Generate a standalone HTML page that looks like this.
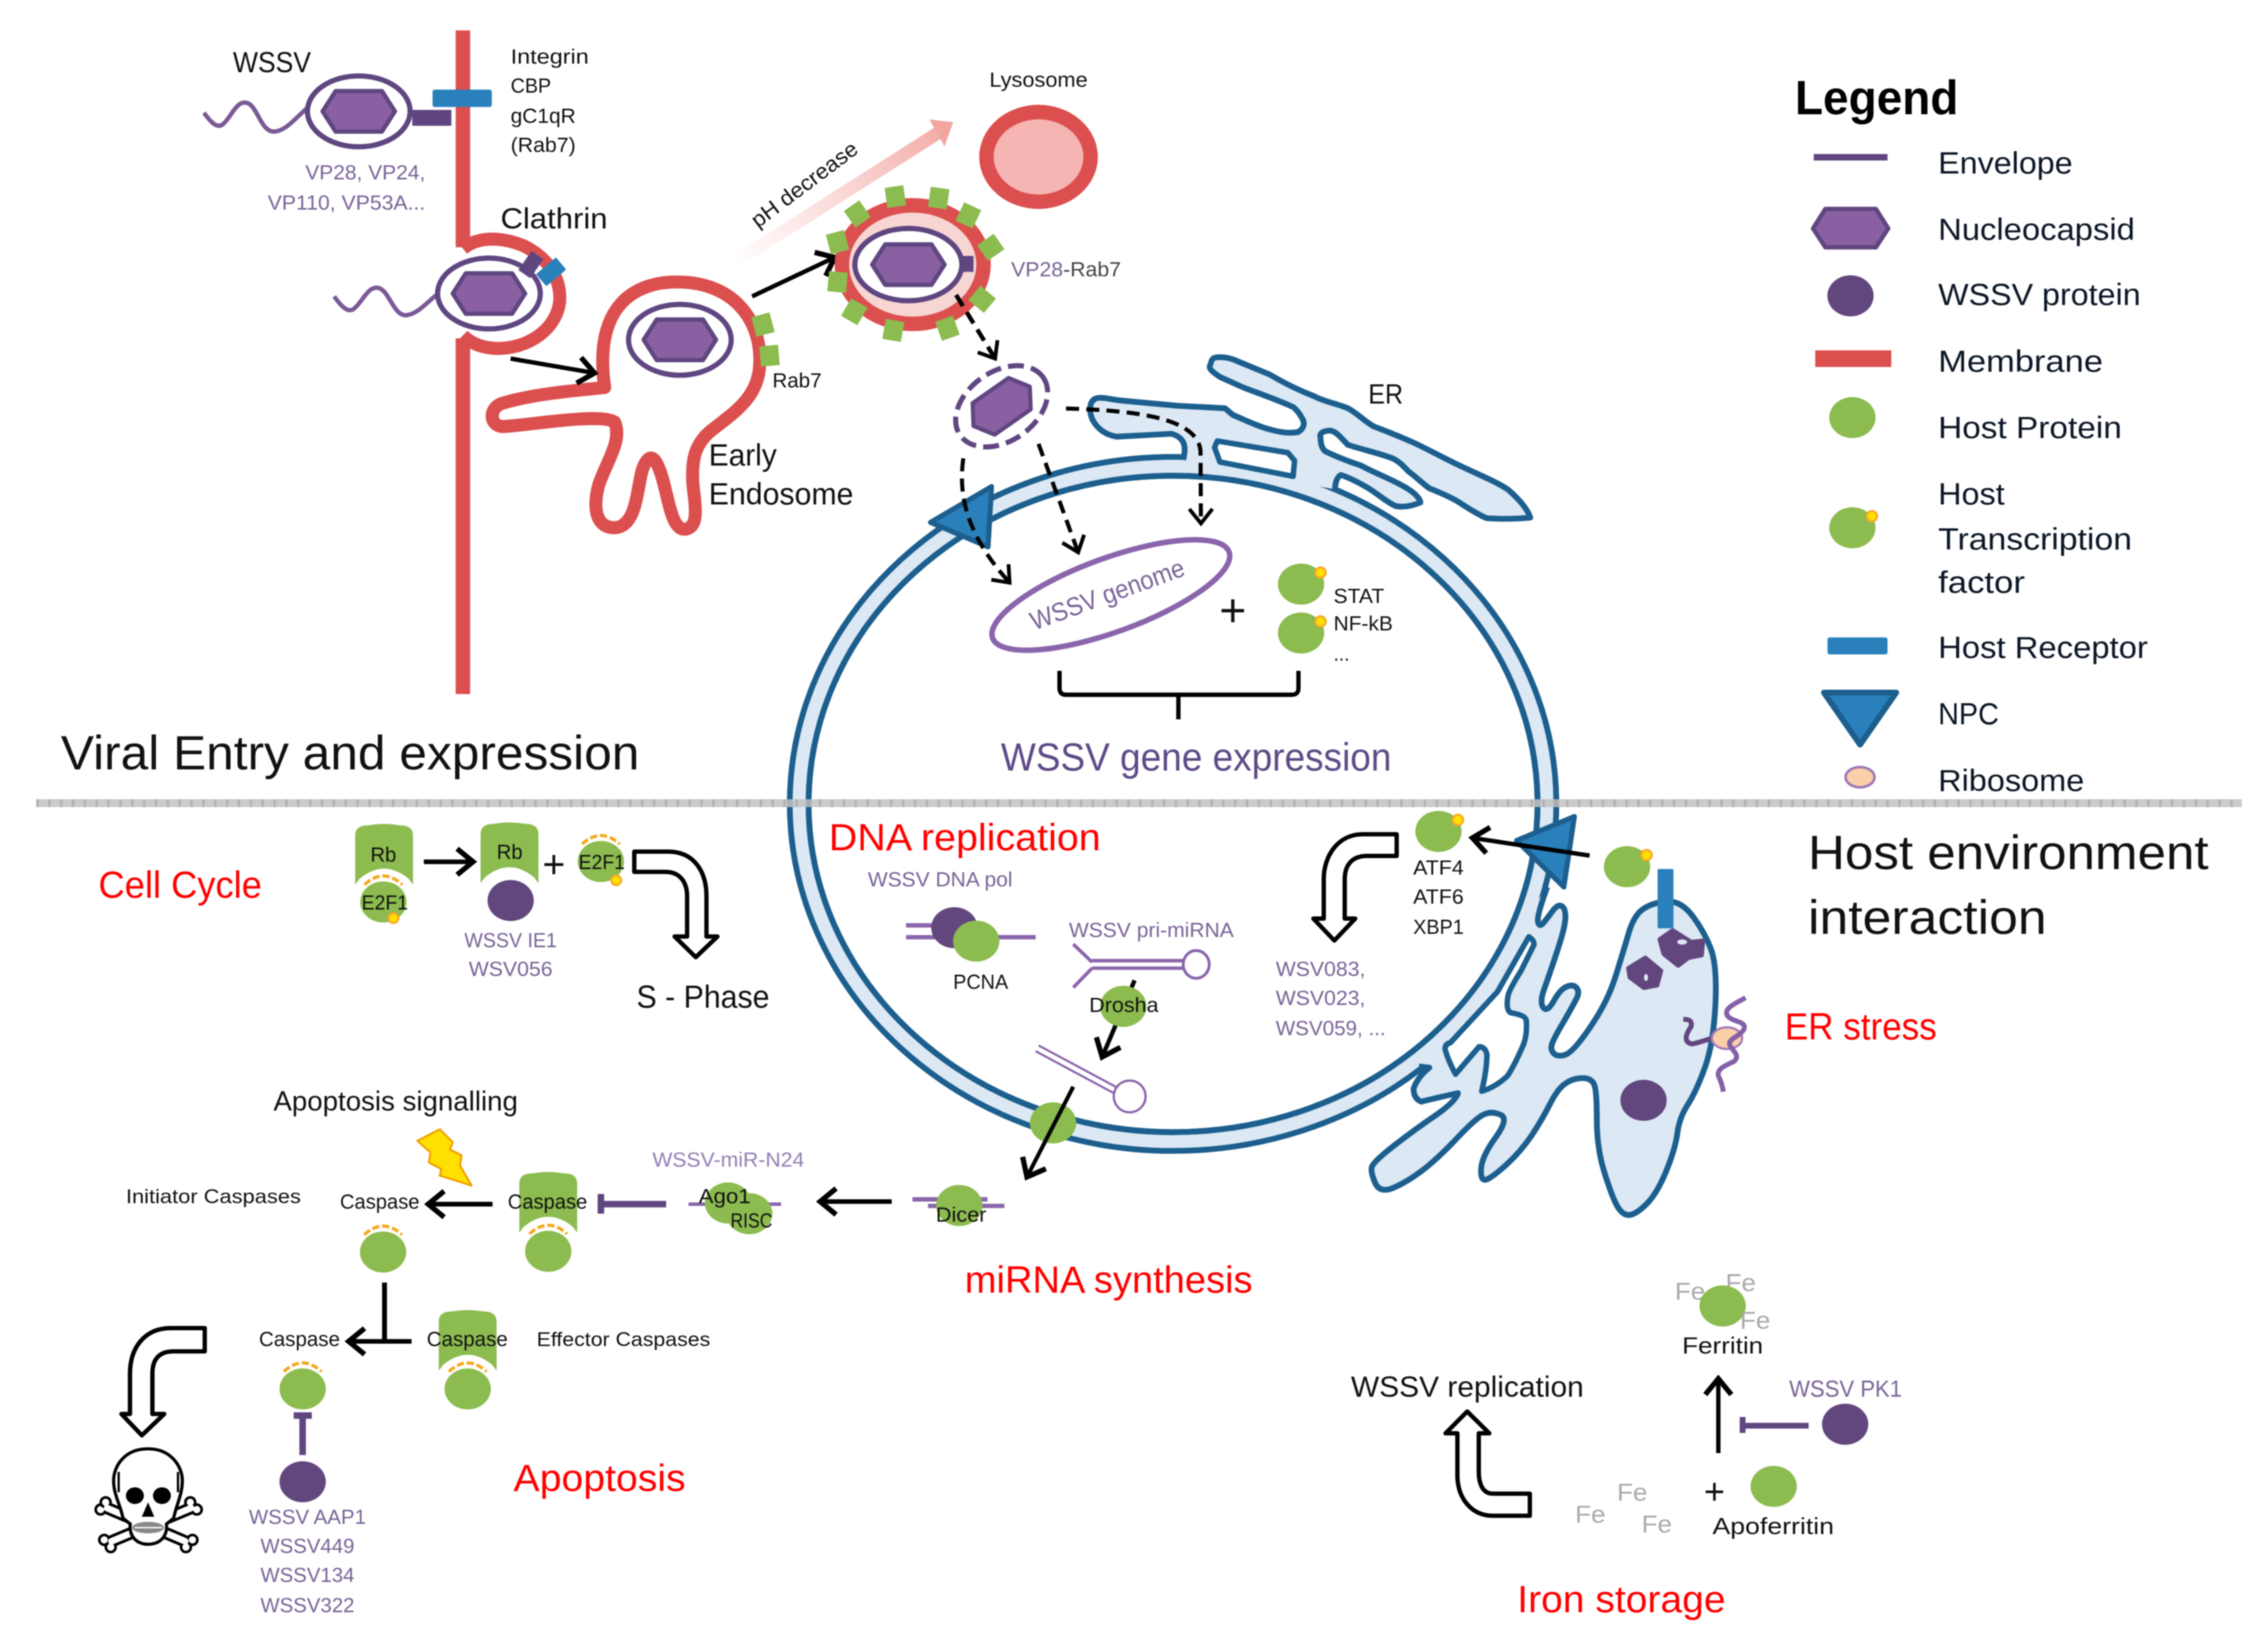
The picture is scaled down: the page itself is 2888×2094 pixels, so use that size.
<!DOCTYPE html>
<html><head><meta charset="utf-8"><title>WSSV host interaction</title>
<style>
html,body{margin:0;padding:0;background:#fff}
svg{display:block;filter:blur(.7px)}
text{font-family:"Liberation Sans",sans-serif;fill:#111}
.p{fill:#7a6498}.lp{fill:#9580b5}.r{fill:#f00}.f{fill:#aaa;font-size:17px}
.s{font-size:14px}.m{font-size:20px}.l{font-size:21px;fill:#0c1626}.rr{font-size:26px;fill:#f00}
</style></head><body>
<svg xmlns="http://www.w3.org/2000/svg" width="2888" height="2094" viewBox="0 0 1568 1137">
<defs>
<marker id="ah" markerUnits="userSpaceOnUse" markerWidth="24" markerHeight="24" refX="16" refY="12" orient="auto"><path d="M5,3 L16,12 L5,21" fill="none" stroke="#000" stroke-width="3.6"/></marker>
<marker id="ad" markerUnits="userSpaceOnUse" markerWidth="24" markerHeight="24" refX="16" refY="12" orient="auto"><path d="M6,4 L16,12 L6,20" fill="none" stroke="#000" stroke-width="2.6"/></marker>
<linearGradient id="ph" x1="507" y1="182" x2="659" y2="83" gradientUnits="userSpaceOnUse"><stop offset="0" stop-color="#f6b8b4" stop-opacity="0"/><stop offset="1" stop-color="#f2a6a2"/></linearGradient>
<g id="hex"><path d="M-25,0 L-16,-14 H16 L25,0 L16,14 H-16 Z" fill="#8a60a3" stroke="#5f4680" stroke-width="3" stroke-linejoin="round"/></g>
<g id="vir"><ellipse rx="35.5" ry="24.5" fill="#fff" stroke="#5f4680" stroke-width="3.6"/><use href="#hex"/></g>
<g id="tf"><ellipse rx="16" ry="14.2" fill="#8cbb4f"/><circle cx="13.5" cy="-8" r="3.6" fill="#ffe000" stroke="#f9a825" stroke-width="1.4"/></g>
<ellipse id="gp" rx="16" ry="14.2" fill="#8cbb4f"/>
<ellipse id="pp" rx="16" ry="14.2" fill="#62467e"/>
<path id="dsh" d="M-13,-12 Q0,-24 13,-12" fill="none" stroke="#f5a81c" stroke-width="2.2" stroke-dasharray="5,2"/>
<path id="rb" d="M-20,-46 Q-20,-53 -11,-53 Q0,-55 11,-53 Q20,-53 20,-46 V-12 L17,-16 Q0,-30 -17,-16 L-20,-12 Z" fill="#8cbb4f"/>
<rect id="sq" x="-6.5" y="-7" width="13" height="14" fill="#8cbb4f"/>
</defs>

<!-- plasma membrane -->
<rect x="315" y="21" width="10" height="150" fill="#dc4f4f"/>
<rect x="315" y="234" width="10" height="246" fill="#dc4f4f"/>
<path d="M320,172 C332,162 350,165 362,170 C382,180 387,195 387,206 C387,222 372,240 345,241 C334,241 326,238 320,232" fill="none" stroke="#dc4f4f" stroke-width="9"/>

<!-- virion 1 -->
<path d="M141,78 C146,85 150,89 154,86 C160,81 163,70 170,71 C178,72 180,92 190,91 C198,90 204,82 212,75" fill="none" stroke="#7a5a96" stroke-width="3"/>
<rect x="285" y="76" width="27" height="11" fill="#5f4680"/>
<use href="#vir" x="248" y="77"/>
<rect x="299" y="62" width="41" height="12" rx="1.5" fill="#2a80bb"/>

<!-- virion 2 -->
<path d="M231,205 C236,212 240,216 244,214 C250,210 254,198 261,199 C269,200 272,219 281,218 C289,217 295,209 303,203" fill="none" stroke="#7a5a96" stroke-width="3"/>
<use href="#vir" x="338" y="203"/>
<rect x="-5" y="-8" width="10" height="16" fill="#5f4680" transform="translate(367,183) rotate(35)"/>
<rect x="-5.5" y="-9" width="11" height="18" rx="1" fill="#2a80bb" transform="translate(381,188) rotate(50)"/>

<!-- early endosome -->
<path d="M418,268 C410,210 440,195 468,195 C510,195 528,225 525,255 C523,275 508,285 494,296 C480,306 478,318 479,335 C481,352 483,364 474,366 C463,367 462,340 456,325 C452,314 448,314 444,325 C440,340 440,364 425,365 C411,365 410,350 414,335 C420,318 430,305 425,292 C415,285 360,295 347,295 C338,294 338,282 347,279 C370,272 400,270 418,268 Z" fill="#fff" stroke="#dc4f4f" stroke-width="9" stroke-linejoin="round"/>
<use href="#vir" x="470" y="235"/>
<use href="#sq" transform="translate(527.5,224.5) rotate(-15)"/>
<use href="#sq" transform="translate(532,246) rotate(-5)"/>
<path d="M353,248 L411,258" fill="none" stroke="#000" stroke-width="3" marker-end="url(#ah)"/>
<path d="M520,205 L577,178" fill="none" stroke="#000" stroke-width="3" marker-end="url(#ah)"/>

<!-- pH arrow -->
<path d="M507,182 L650,91" fill="none" stroke="url(#ph)" stroke-width="9"/>
<path d="M642.5,82.6 L659,84.4 L653,101.3 Z" fill="#f2a6a2"/>
<text transform="translate(524,158) rotate(-37)" font-size="15" textLength="88" lengthAdjust="spacingAndGlyphs">pH decrease</text>

<!-- lysosome -->
<ellipse cx="718" cy="108.5" rx="36" ry="31" fill="#f5b5b3" stroke="#dc4f4f" stroke-width="10"/>

<!-- late endosome -->
<ellipse cx="631" cy="183" rx="49" ry="41" fill="#f7d5d2" stroke="#dc4f4f" stroke-width="10"/>
<rect x="664" y="177" width="9" height="11" fill="#5f4680"/>
<ellipse cx="628" cy="183" rx="37" ry="25" fill="#fff" stroke="#5f4680" stroke-width="3.6"/>
<use href="#hex" x="628" y="183"/>
<use href="#sq" transform="translate(619,136) rotate(-8)"/>
<use href="#sq" transform="translate(649,137) rotate(8)"/>
<use href="#sq" transform="translate(669.5,149) rotate(25)"/>
<use href="#sq" transform="translate(685,171) rotate(55)"/>
<use href="#sq" transform="translate(679,207) rotate(-50)"/>
<use href="#sq" transform="translate(655,227) rotate(-20)"/>
<use href="#sq" transform="translate(617.6,228.5) rotate(10)"/>
<use href="#sq" transform="translate(590.6,215.6) rotate(30)"/>
<use href="#sq" transform="translate(579,195) rotate(5)"/>
<use href="#sq" transform="translate(579,167.5) rotate(-15)"/>
<use href="#sq" transform="translate(592.7,148) rotate(-35)"/>
<path d="M661,204 L688,248" fill="none" stroke="#000" stroke-width="3" stroke-dasharray="9,5" marker-end="url(#ad)"/>

<!-- nuclear envelope -->
<ellipse cx="811" cy="556" rx="265" ry="240" fill="#dce8f4" stroke="#1c5f8e" stroke-width="4"/>
<ellipse cx="811" cy="556" rx="252" ry="227" fill="#fff" stroke="#1c5f8e" stroke-width="4"/>

<!-- ER upper -->
<path d="M818,318 C820,310 820,303 810,300 L772,302 C760,300 752,290 754,280 C756,272 765,276 775,277 L814,280.6 L847,282.4 L852.4,287 C862,291 870,295 878,297 C885,299 892,300 897.7,298.7 C902,296 902,292 900.4,289.6 C898,285 896,283 894,281.5 C882,276 870,272 859.6,268 L843.4,260.7 C838,257 835,255 837,251.6 C838,247 840,247 843.4,247 C848,247 852,248 856,250 L877.8,259 C888,265 898,270 908.5,274 C916,278 924,279 932,282.4 C940,287 944,292 950,295 C958,298 968,302 977,306 C988,311 1000,318 1013.5,324 C1024,329 1034,333 1042.5,338.5 C1050,345 1056,352 1058,358 C1048,359 1038,359 1028,358.4 C1022,356 1016,352 1011.7,349.3 C1004,344 996,341 988,337.6 C982,333 978,329 973.7,326 C970,322 967,319 962.8,317 C952,313 942,311 932,307.7 C928,304 924,298 919.4,297.8 C914,298 912,300 913,303 C913,307 914,310 916,312 C924,316 932,319 941,322 C952,328 964,332 974,338.5 C978,341 982,345 982,347.5 C976,350 970,351 965,350 C958,347 952,341 945,337 C938,333 932,330 927,328.5 C924,330 923,335 923,338.5" fill="#dce8f4" stroke="#1c5f8e" stroke-width="4" stroke-linejoin="round"/>
<path d="M841.6,305 L890.4,313.1 L895,318.6 L894,329.4 L843.4,319.5 L839.7,309.5 Z" fill="#fff" stroke="#1c5f8e" stroke-width="3.8" stroke-linejoin="round"/>

<!-- ER lower -->
<path d="M1069.7,613.5 Q1062.4,633.4 1063.3,637.5 Q1064.2,641.6 1067,638.4 Q1069.7,635.2 1073.3,630.2 Q1076.9,625.3 1079.6,626.6 Q1082.3,628 1082.3,634.3 Q1082.3,640.6 1076.9,656.9 Q1071.5,673.2 1067.9,683.2 Q1064.2,693.1 1067,696.8 Q1069.7,700.4 1074.2,692.3 Q1078.7,684.1 1083.3,682.3 Q1087.8,680.5 1090,683.2 Q1092.3,685.9 1090,690.5 Q1087.8,695 1081.5,705.9 Q1075.1,716.7 1073.3,721.2 Q1071.5,725.7 1074.2,728.5 Q1076.9,731.2 1082.3,729.4 Q1087.8,727.5 1099.5,710.3 Q1111.3,693.1 1116.7,676 Q1122.1,658.8 1125.8,646.1 Q1129.4,633.4 1135.7,628.9 Q1142,624.4 1152,623.5 Q1162,622.6 1170.2,633.5 Q1178.3,644.3 1182.8,656 Q1187.3,667.8 1186,695 Q1184.6,722.1 1178.7,738.4 Q1172.8,754.7 1167,763.8 Q1161.1,772.8 1159.7,783.6 Q1158.3,794.5 1152,809.9 Q1145.7,825.3 1138.5,832.6 Q1131.2,839.8 1126.7,840.3 Q1122.1,840.7 1118.5,834.8 Q1114.9,828.9 1109.5,811.7 Q1104,794.5 1104,774.6 Q1104,754.7 1102.2,750.2 Q1100.4,745.6 1094.1,745.6 Q1087.8,745.6 1082.4,749.3 Q1076.9,752.9 1071.5,763.8 Q1066,774.6 1058.8,785.5 Q1051.5,796.3 1041.6,805.4 Q1031.6,814.4 1027.6,815.8 Q1023.5,817.1 1024,808.5 Q1024.4,799.9 1033.9,786.8 Q1043.4,773.7 1037.5,771 Q1031.6,768.3 1026.2,770.6 Q1020.8,772.8 1007.2,787.3 Q993.6,801.7 982.8,809.9 Q971.9,818 962.9,821.7 Q953.8,825.3 950.7,818 Q947.5,810.8 948.4,807.2 Q949.3,803.6 963.3,792.7 Q977.3,781.8 991.8,771.9 Q1006.3,761.9 1008,756 Q990,760 982.8,761.9 Q977.3,760 977.3,752.9 Q980,745 988.2,738.4 L981,737.5" fill="#dce8f4" stroke="#1c5f8e" stroke-width="4" stroke-linejoin="round"/>
<path d="M1057,647.9 Q1060.6,650 1060.6,653.3 L1051.6,671.4 Q1042.5,686 1042.5,689.5 Q1041,698 1044.3,700.4 Q1055,702 1055.2,705.8 Q1056,715 1053.4,722.1 Q1048,735 1042.5,743.8 Q1034,752 1024.4,754.7 Q1028,740 1028,729.3 Q1027,724 1022.6,723.9 L1006.3,742.9 Q1001,733 999.1,725.7 Q999,722 1002.7,721.2 L1035.3,685.9 Z" fill="#fff" stroke="#1c5f8e" stroke-width="3.8" stroke-linejoin="round"/>

<!-- inner membrane redrawn over ER fill -->
<ellipse cx="811" cy="556" rx="252" ry="227" fill="none" stroke="#1c5f8e" stroke-width="4"/>

<!-- divider -->
<rect x="25" y="552.8" width="1525" height="5.4" fill="#c2c2c2" fill-opacity=".85"/>
<line x1="25" y1="555.5" x2="1550" y2="555.5" stroke="#a6a6a6" stroke-width="5.4" stroke-dasharray="1.6,6.6" stroke-opacity=".7"/>

<!-- blobs -->
<g fill="#62467e" stroke="#62467e" stroke-width="3" stroke-linejoin="round">
<path d="M1147.5,649.7 L1156.5,643.4 L1169.2,651.5 L1177.4,650.6 L1176.5,660.6 L1167.4,662.4 L1160.2,667.8 L1150.2,659.7 Z"/>
<path d="M1125.8,669.6 L1137.5,662.4 L1148.4,671.4 L1145.7,681.4 L1136.6,683.2 L1126.8,675.9 Z"/>
</g>
<ellipse cx="1163" cy="651.5" rx="3.4" ry="1.8" fill="#dce8f4"/>
<ellipse cx="1138" cy="676" rx="1.4" ry="2.4" fill="#dce8f4"/>
<ellipse cx="1136.3" cy="761" rx="16" ry="14.2" fill="#62467e"/>
<path d="M1163.8,705 C1168,705 1170,706 1169.2,710 C1165,716 1164,721 1170,722 C1175,721 1180,719 1184,718" fill="none" stroke="#62467e" stroke-width="3.4"/>
<ellipse cx="1194" cy="718" rx="10.5" ry="7.5" fill="#fbcfa8" stroke="#a078b8" stroke-width="1.5"/>
<path d="M1206.8,690 C1200,694 1192,697 1194,702 C1197,707 1207,706 1206,711 C1204,717 1194,718 1196,723 C1199,728 1203,730 1199,734 C1193,737 1187,739 1188,744 C1190,748 1191,752 1191.5,755" fill="none" stroke="#8460a8" stroke-width="3.4"/>

<!-- receptor on ER + TF outside -->
<rect x="1146" y="601" width="11" height="41" rx="1" fill="#2a80bb"/>
<use href="#tf" x="1124.9" y="599.4"/>

<!-- NPCs -->
<path d="M685.5,336.5 L643.3,361.3 L683.1,378.2 Z" fill="#2a80bb" stroke="#1c5f8e" stroke-width="3.5" stroke-linejoin="round"/>
<path d="M1088.5,564.7 L1048.5,581.3 L1081.2,613.5 Z" fill="#2a80bb" stroke="#1c5f8e" stroke-width="3.5" stroke-linejoin="round"/>
<path d="M1099,591.7 L1018,579.5" fill="none" stroke="#000" stroke-width="3" marker-end="url(#ah)"/>
<use href="#tf" x="994.5" y="575"/>

<!-- naked nucleocapsid -->
<ellipse cx="692.5" cy="281" rx="35" ry="24" transform="rotate(-35 692.5 281)" fill="#fff" stroke="#5f4680" stroke-width="3.5" stroke-dasharray="11,5"/>
<use href="#hex" transform="translate(692.5,281) rotate(-35) scale(.95)"/>

<!-- dashed arrows -->
<path d="M666,317 C662,345 670,372 698,403" fill="none" stroke="#000" stroke-width="2.8" stroke-dasharray="9,5" marker-end="url(#ad)"/>
<path d="M718,307 L745.4,382" fill="none" stroke="#000" stroke-width="2.8" stroke-dasharray="9,5" marker-end="url(#ad)"/>
<path d="M737,282.5 C790,284 828,290 830,312 L830.3,362" fill="none" stroke="#000" stroke-width="2.8" stroke-dasharray="9,5" marker-end="url(#ad)"/>

<!-- genome -->
<ellipse cx="768" cy="411.5" rx="87" ry="25.5" transform="rotate(-20 768 411.5)" fill="#fff" stroke="#8b65ac" stroke-width="3.8"/>
<text transform="translate(715,436) rotate(-20)" font-size="18" textLength="112" lengthAdjust="spacingAndGlyphs" style="fill:#7a6498">WSSV genome</text>
<text x="843" y="433" font-size="32">+</text>
<use href="#tf" x="899.5" y="404"/>
<use href="#tf" x="899.5" y="437.8"/>
<text x="922" y="417" class="s" textLength="35" lengthAdjust="spacingAndGlyphs">STAT</text>
<text x="922" y="436" class="s" textLength="41" lengthAdjust="spacingAndGlyphs">NF-kB</text>
<text x="922" y="457" class="s" textLength="11" lengthAdjust="spacingAndGlyphs">...</text>
<path d="M732.5,464 V476 Q732.5,480.5 737,480.5 H893 Q897.7,480.5 897.7,476 V464 M814.7,480.5 V497.5" fill="none" stroke="#000" stroke-width="3"/>
<text x="692" y="533" font-size="27" textLength="270" lengthAdjust="spacingAndGlyphs" style="fill:#5d4a86">WSSV gene expression</text>
<text x="42" y="532" font-size="33" textLength="400" lengthAdjust="spacingAndGlyphs">Viral Entry and expression</text>

<!-- top labels -->
<text x="161" y="50" class="m" textLength="54" lengthAdjust="spacingAndGlyphs">WSSV</text>
<text x="353" y="44" class="s" textLength="54" lengthAdjust="spacingAndGlyphs">Integrin</text>
<text x="353" y="64" class="s" textLength="28" lengthAdjust="spacingAndGlyphs">CBP</text>
<text x="353" y="85" class="s" textLength="45" lengthAdjust="spacingAndGlyphs">gC1qR</text>
<text x="353" y="105" class="s" textLength="45" lengthAdjust="spacingAndGlyphs">(Rab7)</text>
<text x="211" y="124" class="s p" textLength="83" lengthAdjust="spacingAndGlyphs">VP28, VP24,</text>
<text x="185" y="145" class="s p" textLength="109" lengthAdjust="spacingAndGlyphs">VP110, VP53A...</text>
<text x="346" y="158" class="m" textLength="74" lengthAdjust="spacingAndGlyphs">Clathrin</text>
<text x="684" y="60" class="s" textLength="68" lengthAdjust="spacingAndGlyphs">Lysosome</text>
<text x="534" y="268" class="s" textLength="34" lengthAdjust="spacingAndGlyphs">Rab7</text>
<text x="490" y="322" font-size="21" textLength="47" lengthAdjust="spacingAndGlyphs">Early</text>
<text x="490" y="349" font-size="21" textLength="100" lengthAdjust="spacingAndGlyphs">Endosome</text>
<text x="699" y="191" class="s p" textLength="36" lengthAdjust="spacingAndGlyphs">VP28</text>
<text x="735" y="191" class="s" textLength="40" lengthAdjust="spacingAndGlyphs" style="fill:#444">-Rab7</text>
<text x="946" y="279" font-size="19" textLength="24" lengthAdjust="spacingAndGlyphs">ER</text>

<!-- Legend -->
<text x="1241" y="79" font-size="33" font-weight="bold" textLength="113" lengthAdjust="spacingAndGlyphs" style="fill:#000">Legend</text>
<rect x="1254" y="106.5" width="51" height="4.5" fill="#5f4680"/>
<path d="M1253.5,158 L1262,144.5 H1297 L1305.5,158 L1297,171 H1262 Z" fill="#8a60a3" stroke="#5f4680" stroke-width="3" stroke-linejoin="round"/>
<use href="#pp" x="1279.4" y="204.6"/>
<rect x="1255" y="242.3" width="52.6" height="11.5" fill="#dc4f4f"/>
<use href="#gp" x="1280.7" y="288.8"/>
<use href="#tf" x="1280.7" y="365"/>
<rect x="1263.5" y="440.8" width="41.5" height="11.8" rx="1.5" fill="#2a80bb"/>
<path d="M1261,479 H1311 L1286,515 Z" fill="#2a80bb" stroke="#1c5f8e" stroke-width="4" stroke-linejoin="round"/>
<ellipse cx="1286" cy="537.5" rx="10" ry="7" fill="#fbcfa8" stroke="#a078b8" stroke-width="1.8"/>
<text x="1340" y="120" class="l" textLength="93" lengthAdjust="spacingAndGlyphs">Envelope</text>
<text x="1340" y="166" class="l" textLength="136" lengthAdjust="spacingAndGlyphs">Nucleocapsid</text>
<text x="1340" y="211" class="l" textLength="140" lengthAdjust="spacingAndGlyphs">WSSV protein</text>
<text x="1340" y="257" class="l" textLength="114" lengthAdjust="spacingAndGlyphs">Membrane</text>
<text x="1340" y="303" class="l" textLength="127" lengthAdjust="spacingAndGlyphs">Host Protein</text>
<text x="1340" y="349" class="l" textLength="46" lengthAdjust="spacingAndGlyphs">Host</text>
<text x="1340" y="380" class="l" textLength="134" lengthAdjust="spacingAndGlyphs">Transcription</text>
<text x="1340" y="410" class="l" textLength="60" lengthAdjust="spacingAndGlyphs">factor</text>
<text x="1340" y="455" class="l" textLength="145" lengthAdjust="spacingAndGlyphs">Host Receptor</text>
<text x="1340" y="501" class="l" textLength="42" lengthAdjust="spacingAndGlyphs">NPC</text>
<text x="1340" y="547" class="l" textLength="101" lengthAdjust="spacingAndGlyphs">Ribosome</text>

<text x="1250" y="601" font-size="33" textLength="277" lengthAdjust="spacingAndGlyphs">Host environment</text>
<text x="1250" y="646" font-size="33" textLength="165" lengthAdjust="spacingAndGlyphs">interaction</text>

<!-- Cell cycle -->
<text x="68" y="621" class="rr" textLength="113" lengthAdjust="spacingAndGlyphs">Cell Cycle</text>
<use href="#rb" x="265.5" y="623.8"/>
<use href="#gp" x="265" y="623.8"/>
<use href="#dsh" x="265" y="623.8"/>
<circle cx="272" cy="635" r="3.4" fill="#ffe000" stroke="#f9a825" stroke-width="1.4"/>
<text x="265" y="596" class="s" text-anchor="middle">Rb</text>
<text x="250" y="629" class="s" textLength="32" lengthAdjust="spacingAndGlyphs">E2F1</text>
<path d="M293,596 H327" fill="none" stroke="#000" stroke-width="3.2" marker-end="url(#ah)"/>
<use href="#rb" x="352.2" y="622.8"/>
<use href="#pp" x="353" y="622.8"/>
<text x="352.3" y="594" class="s" text-anchor="middle">Rb</text>
<text x="375" y="607" font-size="27">+</text>
<use href="#gp" x="415.4" y="595.8"/>
<use href="#dsh" x="415.4" y="595.8"/>
<circle cx="426" cy="608.8" r="3.4" fill="#ffe000" stroke="#f9a825" stroke-width="1.4"/>
<text x="400" y="601" class="s" textLength="32" lengthAdjust="spacingAndGlyphs">E2F1</text>
<text x="321" y="655" class="s p" textLength="64" lengthAdjust="spacingAndGlyphs">WSSV IE1</text>
<text x="324" y="675" class="s p" textLength="58" lengthAdjust="spacingAndGlyphs">WSV056</text>
<path d="M438.5,589 H462 C480,589 488.4,603 488.4,620 V647.7 H496 L481,662 L466.4,647.7 H475 V620 C475,610 470,603 460,603 H438.5 Z" fill="#fff" stroke="#000" stroke-width="3" stroke-linejoin="round"/>
<text x="440" y="697" font-size="22" textLength="92" lengthAdjust="spacingAndGlyphs">S - Phase</text>

<!-- DNA replication -->
<text x="573" y="588" class="rr" textLength="188" lengthAdjust="spacingAndGlyphs">DNA replication</text>
<text x="600" y="613" class="s p" textLength="100" lengthAdjust="spacingAndGlyphs">WSSV DNA pol</text>
<path d="M626.4,640 H655 M626.4,648.2 H716" fill="none" stroke="#8b65ac" stroke-width="3"/>
<use href="#pp" x="659.8" y="641.6"/>
<use href="#gp" x="674.9" y="650.9"/>
<text x="659" y="684" class="s" textLength="38" lengthAdjust="spacingAndGlyphs">PCNA</text>
<text x="739" y="648" class="s p" textLength="114" lengthAdjust="spacingAndGlyphs">WSSV pri-miRNA</text>
<path d="M755,664.4 H818 M755,669.6 H818 M742,653 L755,665.4 M742,683 L755,669.6" fill="none" stroke="#8b65ac" stroke-width="2.4"/>
<ellipse cx="827" cy="667" rx="9" ry="9.6" fill="#fff" stroke="#8b65ac" stroke-width="2"/>
<path d="M784.4,678 L762,731" fill="none" stroke="#000" stroke-width="3" marker-end="url(#ah)"/>
<use href="#gp" x="776.6" y="696"/>
<text x="753" y="700" class="s" textLength="48" lengthAdjust="spacingAndGlyphs">Drosha</text>
<path d="M718,723 L772,752 M716,727 L770,756" fill="none" stroke="#8b65ac" stroke-width="1.5"/>
<ellipse cx="781" cy="758.3" rx="11" ry="11" fill="#fff" stroke="#8b65ac" stroke-width="1.6"/>
<use href="#gp" x="728" y="776.6"/>
<path d="M742,751.6 L710,814" fill="none" stroke="#000" stroke-width="2.8" marker-end="url(#ah)"/>

<!-- WSV / ATF -->
<path d="M965.6,577 H942 C925,577 915.2,592 915.2,608 V635.3 H908 L922.5,650.5 L937,635.3 H929.7 V608 C929.7,598 935,592 945,592 H965.6 Z" fill="#fff" stroke="#000" stroke-width="3" stroke-linejoin="round"/>
<text x="977" y="605" class="s" textLength="35" lengthAdjust="spacingAndGlyphs">ATF4</text>
<text x="977" y="625" class="s" textLength="35" lengthAdjust="spacingAndGlyphs">ATF6</text>
<text x="977" y="646" class="s" textLength="35" lengthAdjust="spacingAndGlyphs">XBP1</text>
<text x="882" y="675" class="s p" textLength="62" lengthAdjust="spacingAndGlyphs">WSV083,</text>
<text x="882" y="695" class="s p" textLength="62" lengthAdjust="spacingAndGlyphs">WSV023,</text>
<text x="882" y="716" class="s p" textLength="76" lengthAdjust="spacingAndGlyphs">WSV059, ...</text>
<text x="1234" y="719" class="rr" textLength="105" lengthAdjust="spacingAndGlyphs">ER stress</text>

<!-- miRNA row -->
<path d="M630.8,829.5 H682.7 M641.6,834 H694.4" fill="none" stroke="#8b65ac" stroke-width="3"/>
<use href="#gp" x="663.2" y="833.7"/>
<text x="647" y="845" class="s" textLength="35" lengthAdjust="spacingAndGlyphs">Dicer</text>
<path d="M616.5,831 H567" fill="none" stroke="#000" stroke-width="3.2" marker-end="url(#ah)"/>
<text x="667" y="894" class="rr" textLength="199" lengthAdjust="spacingAndGlyphs">miRNA synthesis</text>
<text x="451" y="807" class="s lp" textLength="105" lengthAdjust="spacingAndGlyphs">WSSV-miR-N24</text>
<path d="M476,832.8 H540" fill="none" stroke="#8b65ac" stroke-width="2.5"/>
<use href="#gp" x="503.3" y="832"/>
<use href="#gp" x="518" y="839.4"/>
<text x="483" y="832" class="s" textLength="36" lengthAdjust="spacingAndGlyphs">Ago1</text>
<text x="505" y="849" class="s" textLength="29" lengthAdjust="spacingAndGlyphs">RISC</text>
<path d="M460.5,832.8 H416 M415.4,825.8 V839.4" fill="none" stroke="#5f4680" stroke-width="4.5"/>
<use href="#rb" x="379" y="864.5"/>
<use href="#gp" x="379" y="865.4"/>
<use href="#dsh" x="379" y="865.4"/>
<text x="351" y="836" class="s" textLength="55" lengthAdjust="spacingAndGlyphs">Caspase</text>
<path d="M340.5,832.8 H296" fill="none" stroke="#000" stroke-width="3.2" marker-end="url(#ah)"/>
<text x="235" y="836" class="s" textLength="55" lengthAdjust="spacingAndGlyphs">Caspase</text>
<text x="87" y="832" font-size="13.5" textLength="121" lengthAdjust="spacingAndGlyphs">Initiator Caspases</text>
<use href="#gp" x="264.8" y="865.9"/>
<use href="#dsh" x="264.8" y="865.9"/>
<text x="189" y="768" font-size="19" textLength="169" lengthAdjust="spacingAndGlyphs">Apoptosis signalling</text>
<path d="M304,781 L288.5,789 L297.5,797 L296.5,804 L305,808.5 L304,813 L326,820 L318,806 L319,799 L311,795 L313,790 Z" fill="#ffe000" stroke="#f0a000" stroke-width="1.4" stroke-linejoin="round"/>

<!-- second caspase row -->
<path d="M265.8,887 V927.7" fill="none" stroke="#000" stroke-width="3.4"/>
<path d="M284.5,927.7 H241" fill="none" stroke="#000" stroke-width="3.2" marker-end="url(#ah)"/>
<use href="#rb" x="323.3" y="960"/>
<use href="#gp" x="323.3" y="960.6"/>
<use href="#dsh" x="323.3" y="960.6"/>
<text x="295" y="931" class="s" textLength="56" lengthAdjust="spacingAndGlyphs">Caspase</text>
<text x="179" y="931" class="s" textLength="56" lengthAdjust="spacingAndGlyphs">Caspase</text>
<text x="371" y="931" font-size="13.5" textLength="120" lengthAdjust="spacingAndGlyphs">Effector Caspases</text>
<use href="#gp" x="209.2" y="960.6"/>
<use href="#dsh" x="209.2" y="960.6"/>
<path d="M209.2,1006.3 V980 M203,979 H215.5" fill="none" stroke="#5f4680" stroke-width="4.5"/>
<use href="#pp" x="209.2" y="1024.8"/>
<text x="172" y="1054" class="s p" textLength="81" lengthAdjust="spacingAndGlyphs">WSSV AAP1</text>
<text x="180" y="1074" class="s p" textLength="65" lengthAdjust="spacingAndGlyphs">WSSV449</text>
<text x="180" y="1094" class="s p" textLength="65" lengthAdjust="spacingAndGlyphs">WSSV134</text>
<text x="180" y="1115" class="s p" textLength="65" lengthAdjust="spacingAndGlyphs">WSSV322</text>
<text x="355" y="1031" class="rr" textLength="119" lengthAdjust="spacingAndGlyphs">Apoptosis</text>

<path d="M141.5,918.5 H118 C100,918.5 89.8,932 89.8,950 V977.9 H83.9 L98,992.7 L113.5,977.9 H105.3 V950 C105.3,940 110,934.6 120,934.6 H141.5 Z" fill="#fff" stroke="#000" stroke-width="3" stroke-linejoin="round"/>

<!-- skull and bones -->
<g stroke-linecap="round" fill="none">
<path d="M74,1043 L128,1066 M132,1043 L77,1066" stroke="#000" stroke-width="8.5"/>
<g fill="#fff" stroke="#000" stroke-width="1.8">
<circle cx="69.5" cy="1044" r="3.4"/><circle cx="73" cy="1039" r="3.4"/>
<circle cx="136" cy="1044" r="3.4"/><circle cx="131.5" cy="1039" r="3.4"/>
<circle cx="72" cy="1065" r="3.4"/><circle cx="76.5" cy="1070" r="3.4"/>
<circle cx="133" cy="1065" r="3.4"/><circle cx="128.5" cy="1070" r="3.4"/>
</g>
<path d="M74,1043 L128,1066 M132,1043 L77,1066" stroke="#fff" stroke-width="4.6"/>
</g>
<path d="M102.3,1002 C86,1002 78.5,1014 78.5,1024 C78.5,1034 83,1040 85,1050 L90,1054 C89,1062 94,1068 102.3,1068 C111,1068 116,1062 115,1054 L120,1050 C122,1040 126,1034 126,1024 C126,1014 118,1002 102.3,1002 Z" fill="#fff" stroke="#000" stroke-width="2.2"/>
<path d="M82,1018 V1032 M123,1018 V1032" stroke="#000" stroke-width="1.6" fill="none"/>
<ellipse cx="93.2" cy="1034.4" rx="6.2" ry="5.8" fill="#000"/>
<ellipse cx="111.9" cy="1034.4" rx="6.2" ry="5.8" fill="#000"/>
<path d="M102.3,1039 L98,1049 H106.6 Z" fill="#000"/>
<ellipse cx="102.3" cy="1056.5" rx="11" ry="4" fill="#888"/>
<path d="M93,1056.5 H112" stroke="#fff" stroke-width=".9"/>

<!-- iron -->
<text x="1158" y="899" class="f" textLength="21" lengthAdjust="spacingAndGlyphs">Fe</text>
<text x="1193" y="893" class="f" textLength="21" lengthAdjust="spacingAndGlyphs">Fe</text>
<use href="#gp" x="1191" y="903.2"/>
<text x="1203" y="919" class="f" textLength="21" lengthAdjust="spacingAndGlyphs">Fe</text>
<text x="1163" y="936" font-size="16" textLength="56" lengthAdjust="spacingAndGlyphs">Ferritin</text>
<path d="M1188,1005 V953.5" fill="none" stroke="#000" stroke-width="3" marker-end="url(#ah)"/>
<path d="M1250.4,986 H1206 M1204.8,980 V991" fill="none" stroke="#5f4680" stroke-width="4"/>
<use href="#pp" x="1275.7" y="985"/>
<text x="1237" y="966" font-size="16" class="p" textLength="78" lengthAdjust="spacingAndGlyphs">WSSV PK1</text>
<text x="934" y="966" font-size="20" textLength="161" lengthAdjust="spacingAndGlyphs">WSSV replication</text>
<path d="M1057.7,1033 H1032 C1025,1033 1022.4,1026 1022.4,1018 V991.3 H1029.7 L1014.4,976.2 L999.4,991.3 H1007.6 V1020 C1007.6,1037 1018,1048.3 1032,1048.3 H1057.7 Z" fill="#fff" stroke="#000" stroke-width="3" stroke-linejoin="round"/>
<text x="1089" y="1053" class="f" textLength="21" lengthAdjust="spacingAndGlyphs">Fe</text>
<text x="1118" y="1038" class="f" textLength="21" lengthAdjust="spacingAndGlyphs">Fe</text>
<text x="1135" y="1060" class="f" textLength="21" lengthAdjust="spacingAndGlyphs">Fe</text>
<text x="1178" y="1040" font-size="25">+</text>
<use href="#gp" x="1226.3" y="1028"/>
<text x="1184" y="1061" font-size="16" textLength="84" lengthAdjust="spacingAndGlyphs">Apoferritin</text>
<text x="1049" y="1115" class="rr" textLength="144" lengthAdjust="spacingAndGlyphs">Iron storage</text>
</svg>
</body></html>
